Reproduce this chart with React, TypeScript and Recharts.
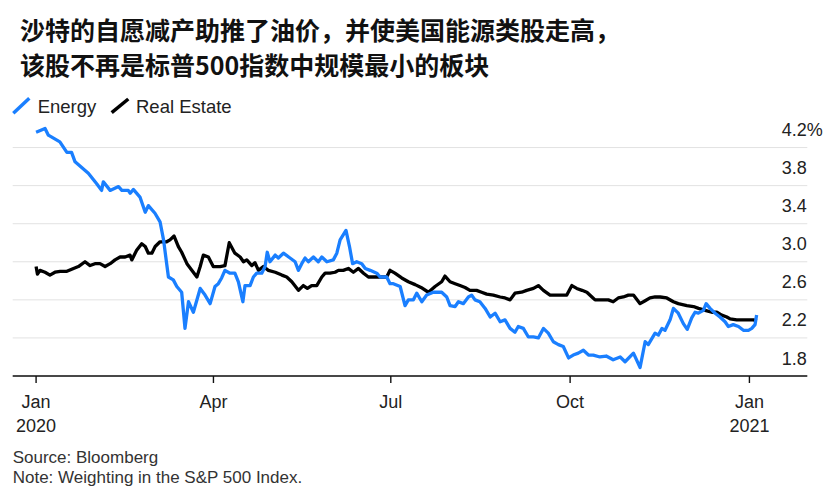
import React from 'react';
import { LineChart, Line, XAxis, YAxis, CartesianGrid } from 'recharts';

// days since 2020-01-01
const energyDays = [
  0, 4.6, 6.3, 12.2, 15.8, 18.2, 20, 26.8, 31.1, 33.6, 34.5, 38, 42.3, 44, 47.3, 48.3, 49.9, 53.3, 56, 57.6,
  61, 63.6, 65.4, 67, 67.9, 70.4, 72.2, 74.7, 76.4, 78.2, 80.7, 84.2, 86.7, 89.3, 91.8, 93.5, 95.2, 96.9, 99.5, 102,
  103.8, 106.1, 107.2, 109.8, 111.5, 113.2, 115.8, 117.5, 118.6, 120, 122.7, 124.3, 126.9, 130.3, 132.9, 134.6, 136.3, 138, 139.7, 142.3,
  144.8, 146.6, 149.2, 152.5, 154.3, 156, 159, 160.8, 162.4, 164.5, 167.1, 168.9, 171.4, 174.8, 176.5, 179.9, 181.6, 183.3, 186.8, 189.3,
  191, 193.6, 195.3, 197.9, 200.4, 203.8, 208.1, 210.7, 212.4, 215, 216.7, 219.2, 221.8, 223.5, 225.2, 227.7, 230.4, 233, 235.5, 238.1,
  240.6, 243.2, 245.7, 247.4, 250, 252.6, 255.2, 257.7, 260.3, 262.8, 265.4, 268, 270.5, 273.2, 275.6, 278.2, 280.8, 283.4, 285.9, 289.3,
  292.5, 296.1, 299.7, 302.2, 306.5, 309.9, 312.5, 314.1, 317.6, 319.3, 321.1, 322.7, 325.3, 327, 329.5, 332.1, 334.1, 336.4, 338.1, 339.8,
  342.4, 343.8, 345.8, 348.4, 350.9, 353.5, 355.2, 357.7, 360.4, 362.9, 365.5, 367.2, 368.9, 369.7,
];
const energyValues = [
  4.36, 4.4, 4.33, 4.26, 4.15, 4.15, 4.05, 3.93, 3.82, 3.75, 3.84, 3.75, 3.79, 3.75, 3.75, 3.72, 3.76, 3.68, 3.52, 3.59,
  3.51, 3.42, 3.23, 2.98, 2.84, 2.81, 2.74, 2.68, 2.3, 2.58, 2.47, 2.72, 2.65, 2.56, 2.74, 2.77, 2.83, 2.91, 2.88, 2.88,
  2.79, 2.58, 2.75, 2.75, 2.84, 2.88, 2.88, 2.95, 3.1, 3.0, 3.07, 3.04, 3.09, 3.04, 3.0, 2.91, 2.98, 3.04, 3.0, 3.05,
  3.0, 3.05, 3.0, 3.02, 3.09, 3.23, 3.33, 3.16, 2.98, 3.0, 2.98, 2.93, 2.91, 2.88, 2.84, 2.84, 2.77, 2.77, 2.74, 2.54,
  2.6, 2.6, 2.67, 2.58, 2.65, 2.68, 2.68, 2.63, 2.54, 2.53, 2.58, 2.56, 2.63, 2.65, 2.6, 2.58, 2.51, 2.42, 2.46, 2.37,
  2.39, 2.3, 2.26, 2.32, 2.3, 2.21, 2.21, 2.2, 2.3, 2.25, 2.16, 2.13, 2.11, 1.99, 2.02, 2.04, 2.07, 2.02, 2.02, 2.0,
  2.01, 1.97, 2.0, 1.95, 2.04, 1.89, 2.16, 2.13, 2.25, 2.23, 2.3, 2.28, 2.39, 2.51, 2.46, 2.35, 2.29, 2.41, 2.47, 2.46,
  2.49, 2.56, 2.51, 2.46, 2.42, 2.37, 2.32, 2.34, 2.32, 2.28, 2.28, 2.3, 2.34, 2.44,
];

const realEstateDays = [
  0, 0.7, 2, 4.6, 7.1, 9.7, 12.4, 15.8, 19.2, 21.7, 25.1, 27.7, 30.2, 32.8, 35.4, 38, 40.5, 43.1, 45.7, 48.2,
  49.1, 51.6, 54.2, 56, 57.6, 59.4, 61.1, 63.6, 67, 68.7, 70.8, 73, 74.7, 77.4, 79.9, 82.5, 84.2, 85.8, 88.4, 90.9,
  94.4, 96.9, 99.1, 102, 104.7, 106.4, 108.1, 110.7, 112.3, 114.1, 116.6, 119.2, 122.7, 126.1, 128.6, 131.2, 134.6, 137.1, 139.2, 141.4,
  144, 146.6, 148.3, 150.8, 153.4, 155.1, 157.6, 160.2, 162.8, 165.4, 168, 170.5, 173.1, 175.6, 179.9, 181.6, 184.1, 187.6, 191, 194.5,
  197.5, 201.3, 204.7, 208.1, 209.8, 212.4, 215, 217.5, 220.1, 222.6, 226, 228.6, 231.2, 234.6, 238.1, 240.6, 243.2, 245.7, 249.1, 251.7,
  255.2, 257.7, 260.3, 263.7, 268, 272.3, 274.9, 277.4, 280.1, 282.6, 285.2, 286.8, 290.3, 293.6, 296.1, 298.7, 301.3, 303.9, 306.5, 309.9,
  312.5, 315, 317.6, 320.2, 323.6, 327, 329.5, 333.9, 337.3, 339.9, 343.3, 346.7, 349.3, 351.8, 354.4, 356.1, 359.5, 363, 365.5, 368.1,
  369.8,
];
const realEstateValues = [
  2.95, 2.87, 2.91, 2.89, 2.86, 2.89, 2.9, 2.9, 2.93, 2.95, 3.0, 2.96, 2.98, 2.98, 2.95, 2.98, 3.02, 3.05, 3.05, 3.07,
  3.02, 3.12, 3.19, 3.16, 3.09, 3.09, 3.16, 3.21, 3.21, 3.23, 3.27, 3.16, 3.1, 2.98, 2.91, 2.84, 2.95, 3.07, 3.05, 2.95,
  2.95, 2.96, 3.2, 3.09, 3.05, 3.0, 3.02, 2.96, 2.99, 2.91, 2.95, 2.91, 2.89, 2.86, 2.84, 2.79, 2.7, 2.75, 2.72, 2.75,
  2.75, 2.84, 2.88, 2.88, 2.89, 2.91, 2.91, 2.93, 2.89, 2.93, 2.88, 2.84, 2.84, 2.84, 2.84, 2.91, 2.88, 2.83, 2.79, 2.76,
  2.73, 2.68, 2.74, 2.79, 2.85, 2.79, 2.77, 2.75, 2.73, 2.7, 2.7, 2.68, 2.66, 2.65, 2.63, 2.62, 2.6, 2.67, 2.68, 2.7,
  2.72, 2.75, 2.7, 2.65, 2.65, 2.65, 2.75, 2.72, 2.7, 2.68, 2.63, 2.6, 2.6, 2.6, 2.58, 2.62, 2.63, 2.65, 2.65, 2.56,
  2.59, 2.62, 2.63, 2.63, 2.62, 2.58, 2.56, 2.54, 2.53, 2.51, 2.49, 2.47, 2.47, 2.44, 2.42, 2.4, 2.39, 2.39, 2.39, 2.39,
  2.38,
];

const xTickDays = [0, 91, 182, 274, 366];
const xTickMonths = ['Jan', 'Apr', 'Jul', 'Oct', 'Jan'];
const xTickYears = ['2020', '', '', '', '2021'];
const yTicks = [1.8, 2.2, 2.6, 3.0, 3.4, 3.8, 4.2];

const titleLines = [
  '沙特的自愿减产助推了油价，并使美国能源类股走高，',
  '该股不再是标普500指数中规模最小的板块',
];
const seriesNames = ['Energy', 'Real Estate'];
const seriesColors = ['#1a7fff', '#000000'];
const footnotes = ['Source: Bloomberg', 'Note: Weighting in the S&P 500 Index.'];

const energyData = energyDays.map((d, i) => ({ d, v: energyValues[i] }));
const realEstateData = realEstateDays.map((d, i) => ({ d, v: realEstateValues[i] }));

const LATIN = '"Liberation Sans", Arial, Helvetica, sans-serif';
const CJK = '"Noto Sans CJK SC", "Noto Sans", sans-serif';

const XTick = (props: any) => {
  const { x, y, payload } = props;
  const i = xTickDays.indexOf(payload.value);
  return (
    <g>
      <text x={x} y={y} dy={25.3} textAnchor="middle" fontFamily={LATIN} fontSize={18} fill="#222">
        {xTickMonths[i]}
      </text>
      {xTickYears[i] ? (
        <text x={x} y={y} dy={48.7} textAnchor="middle" fontFamily={LATIN} fontSize={18} fill="#222">
          {xTickYears[i]}
        </text>
      ) : null}
    </g>
  );
};

const YTick = (props: any) => {
  const { x, y, payload } = props;
  const v = payload.value as number;
  const top = yTicks[yTicks.length - 1];
  const label = v === top ? `${v.toFixed(1)}%` : v.toFixed(1);
  return (
    <text x={x - 25.6} y={y - 11.5} textAnchor="start" fontFamily={LATIN} fontSize={18} fill="#222">
      {label}
    </text>
  );
};

export default function App() {
  return (
    <div style={{ position: 'absolute', left: 0, top: 0, width: 831, height: 489, background: '#fff' }}>
      <svg
        width={831}
        height={489}
        style={{ position: 'absolute', left: 0, top: 0, pointerEvents: 'none' }}
      >
        {titleLines.map((t, i) => (
          <text key={i} x={20} y={40 + i * 35} fontFamily={CJK} fontWeight={700} fontSize={25} fill="#111">
            {t}
          </text>
        ))}
        <line x1={13.3} y1={113.3} x2={29.3} y2={98.3} stroke={seriesColors[0]} strokeWidth={3.5} />
        <text x={37.7} y={113.3} fontFamily={LATIN} fontSize={18.5} fill="#222">
          {seriesNames[0]}
        </text>
        <line x1={111.7} y1={112.7} x2={128.3} y2={99} stroke={seriesColors[1]} strokeWidth={3.5} />
        <text x={136} y={113.3} fontFamily={LATIN} fontSize={18.5} fill="#222">
          {seriesNames[1]}
        </text>
        {footnotes.map((t, i) => (
          <text key={i} x={12.7} y={463 + i * 19.5} fontFamily={LATIN} fontSize={17} fill="#333">
            {t}
          </text>
        ))}
      </svg>
      <div style={{ position: 'absolute', left: 0, top: 0 }}>
        <LineChart width={831} height={489} margin={{ top: 119, right: 0, bottom: 0, left: 12.7 }}>
          <CartesianGrid
            horizontal
            vertical={false}
            horizontalValues={yTicks}
            stroke="#e2e2e2"
            strokeWidth={1}
          />
          <XAxis
            type="number"
            dataKey="d"
            domain={[-12, 395.7]}
            allowDataOverflow
            ticks={xTickDays}
            interval={0}
            height={113}
            tickSize={7}
            tickMargin={0}
            axisLine={{ stroke: '#111', strokeWidth: 1.6 }}
            tickLine={{ stroke: '#111', strokeWidth: 1.4 }}
            tick={<XTick />}
          />
          <YAxis
            type="number"
            orientation="right"
            domain={[1.8, 4.5]}
            allowDataOverflow
            ticks={yTicks}
            interval={0}
            width={23.7}
            tickSize={0}
            tickMargin={0}
            axisLine={false}
            tickLine={false}
            tick={<YTick />}
          />
          <Line
            data={realEstateData}
            dataKey="v"
            type="linear"
            stroke={seriesColors[1]}
            strokeWidth={3.3}
            strokeLinejoin="round"
            dot={false}
            activeDot={false}
            isAnimationActive={false}
          />
          <Line
            data={energyData}
            dataKey="v"
            type="linear"
            stroke={seriesColors[0]}
            strokeWidth={3.3}
            strokeLinejoin="round"
            dot={false}
            activeDot={false}
            isAnimationActive={false}
          />
        </LineChart>
      </div>
    </div>
  );
}
